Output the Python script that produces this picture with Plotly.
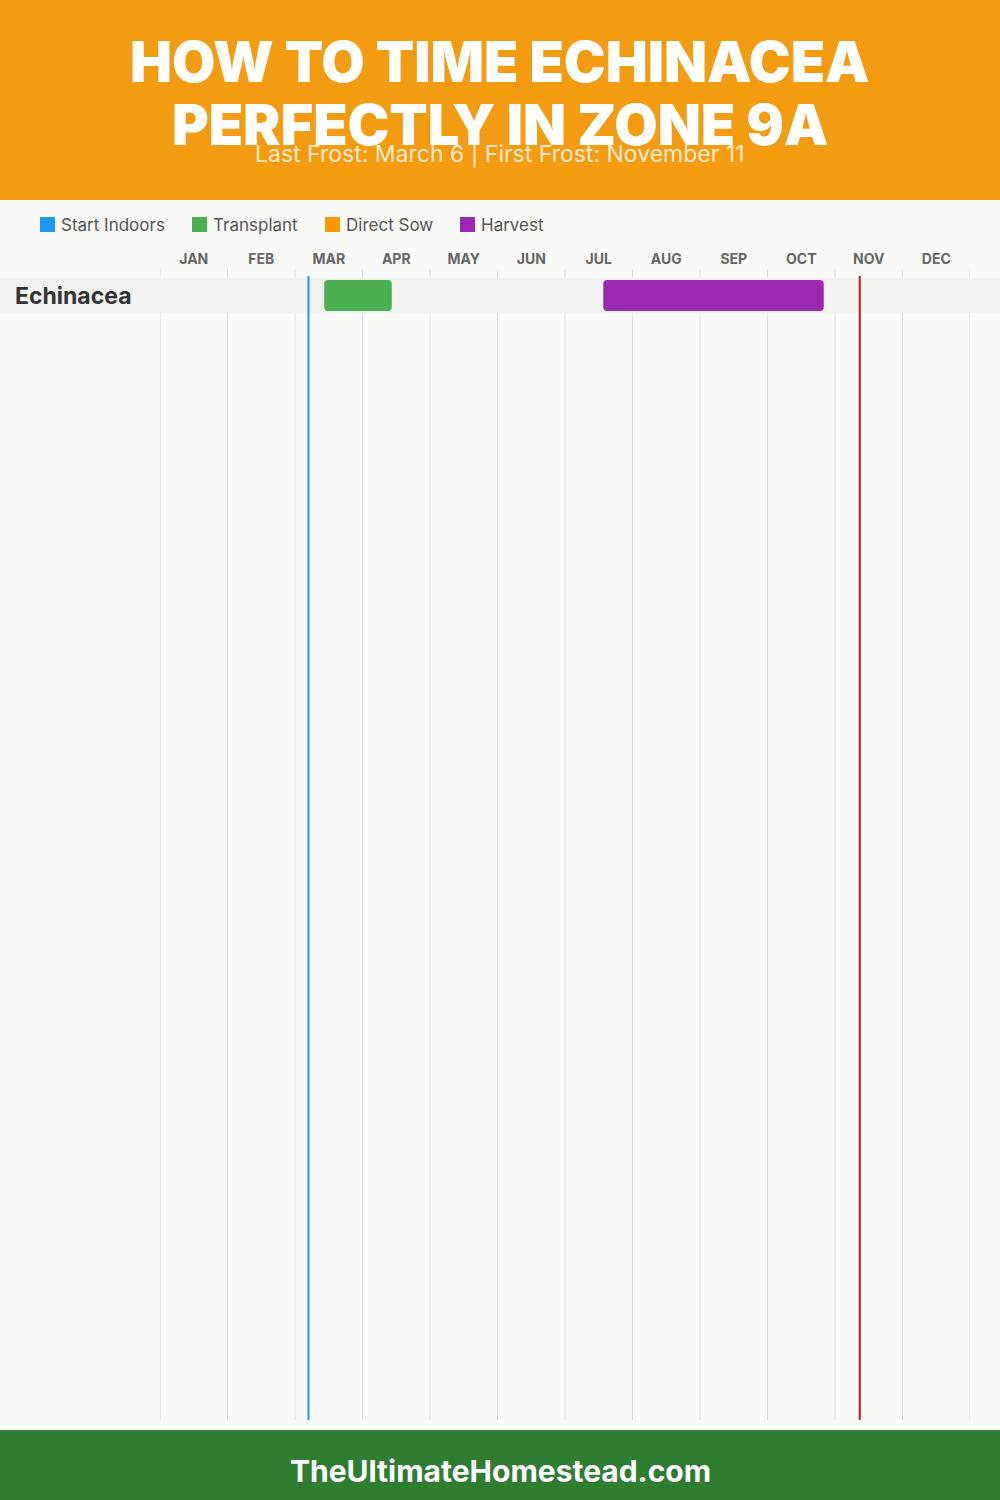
import plotly.graph_objects as go

# ---------------- data ----------------
title_lines = ["HOW TO TIME ECHINACEA", "PERFECTLY IN ZONE 9A"]
subtitle = "Last Frost: March 6 | First Frost: November 11"
footer = "TheUltimateHomestead.com"
months = ["JAN", "FEB", "MAR", "APR", "MAY", "JUN", "JUL", "AUG", "SEP", "OCT", "NOV", "DEC"]
crops = ["Echinacea"]
legend_names = ["Start Indoors", "Transplant", "Direct Sow", "Harvest"]
legend_colors = ["#2196F3", "#4CAF50", "#FF9800", "#9C27B0"]
# (month, day) windows per crop
transplant_start = [(3, 13)]
transplant_end = [(4, 13)]
harvest_start = [(7, 17)]
harvest_end = [(10, 25)]
last_frost = (3, 6)
first_frost = (11, 11)

# ---------------- layout geometry ----------------
W, H = 1000, 1500
L, R, T, B = 160, 30, 269, 80
PW, PH = W - L - R, H - T - B
ROW_PX = 35.0
ROW_CENTER_PX = 295.5


def px(xp):
    return (xp - L) / PW


def py(yp):
    return (H - B - yp) / PH


def pos(md):
    m, d = md
    return (m - 1) + d / 30.0


y_top = -(ROW_CENTER_PX - T) / ROW_PX
y_bot = y_top + PH / ROW_PX

fig = go.Figure()

rows = list(range(len(crops)))
ts = [pos(s) for s in transplant_start]
te = [pos(e) for e in transplant_end]
hs = [pos(s) for s in harvest_start]
he = [pos(e) for e in harvest_end]

fig.add_trace(go.Bar(
    orientation="h", y=rows, base=ts, x=[e - s for s, e in zip(ts, te)],
    width=31 / ROW_PX, marker=dict(color=legend_colors[1], cornerradius=4, line=dict(width=0)),
    name=legend_names[1], showlegend=False, hoverinfo="skip"))
fig.add_trace(go.Bar(
    orientation="h", y=rows, base=hs, x=[e - s for s, e in zip(hs, he)],
    width=31 / ROW_PX, marker=dict(color=legend_colors[3], cornerradius=4, line=dict(width=0)),
    name=legend_names[3], showlegend=False, hoverinfo="skip"))

shapes = []
# header / footer bands
shapes.append(dict(type="rect", xref="paper", yref="paper", x0=px(0), x1=px(W), y0=py(200), y1=py(0),
                   fillcolor="#F39C12", line=dict(width=0), layer="below"))
shapes.append(dict(type="rect", xref="paper", yref="paper", x0=px(0), x1=px(W), y0=py(H), y1=py(1430),
                   fillcolor="#2E7D32", line=dict(width=0), layer="below"))
# month grid lines
for i in range(len(months) + 1):
    shapes.append(dict(type="line", xref="x", yref="paper", x0=i, x1=i, y0=0, y1=1,
                       line=dict(color="#DDDDDD", width=1), layer="below"))
# row bands
for r in rows:
    shapes.append(dict(type="rect", xref="paper", yref="y", x0=px(0), x1=px(W), y0=r - 0.5, y1=r + 0.5,
                       fillcolor="#F2F2F1", line=dict(width=0), layer="below"))
# frost lines
shapes.append(dict(type="line", xref="x", yref="paper", x0=pos(last_frost), x1=pos(last_frost),
                   y0=0, y1=py(276), line=dict(color="#2196F3", width=2), layer="above"))
shapes.append(dict(type="line", xref="x", yref="paper", x0=pos(first_frost), x1=pos(first_frost),
                   y0=0, y1=py(276), line=dict(color="#B71C1C", width=2), layer="above"))

annotations = []
# title
for k, (line, yc) in enumerate(zip(title_lines, [62, 125])):
    annotations.append(dict(text=line, xref="paper", yref="paper", x=px(500), y=py(yc),
                            xanchor="center", yanchor="middle", showarrow=False,
                            font=dict(family="Inter", size=56, color="white", weight=900)))
annotations.append(dict(text=subtitle, xref="paper", yref="paper", x=px(500), y=py(154),
                        xanchor="center", yanchor="middle", showarrow=False,
                        font=dict(family="Inter", size=23, color="rgba(255,255,255,0.8)", weight=400)))
# legend
leg_x = [40, 192, 325, 460]
for name, color, lx in zip(legend_names, legend_colors, leg_x):
    shapes.append(dict(type="rect", xref="paper", yref="paper", x0=px(lx), x1=px(lx + 15),
                       y0=py(232), y1=py(217), fillcolor=color, line=dict(width=0)))
    annotations.append(dict(text=name, xref="paper", yref="paper", x=px(lx + 19), y=py(225),
                            xanchor="left", yanchor="middle", showarrow=False,
                            font=dict(family="Inter", size=17, color="#555555")))
# crop labels
for r, c in zip(rows, crops):
    annotations.append(dict(text=c, xref="paper", yref="y", x=px(13), y=r,
                            xanchor="left", yanchor="middle", showarrow=False,
                            font=dict(family="Inter", size=23, color="#333333", weight=700)))
# footer
annotations.append(dict(text=footer, xref="paper", yref="paper", x=px(500), y=py(1471),
                        xanchor="center", yanchor="middle", showarrow=False,
                        font=dict(family="Inter", size=30, color="white", weight=700)))

fig.update_layout(
    width=W, height=H,
    margin=dict(l=L, r=R, t=T, b=B, pad=0),
    paper_bgcolor="#FAFAF9", plot_bgcolor="rgba(0,0,0,0)",
    shapes=shapes, annotations=annotations,
    barmode="overlay", showlegend=False,
    xaxis=dict(range=[0, len(months)], side="top", tickvals=[i + 0.5 for i in range(len(months))],
               ticktext=months, showgrid=False, zeroline=False, showline=False, ticks="",
               tickfont=dict(family="Inter", size=14, color="#666666", weight=700),
               fixedrange=True, ticklabelstandoff=1),
    yaxis=dict(range=[y_bot, y_top], visible=False, fixedrange=True),
)

fig.write_html("out.html", config={"displayModeBar": False},
               post_script="document.body.style.margin='0';document.body.style.padding='0';")
